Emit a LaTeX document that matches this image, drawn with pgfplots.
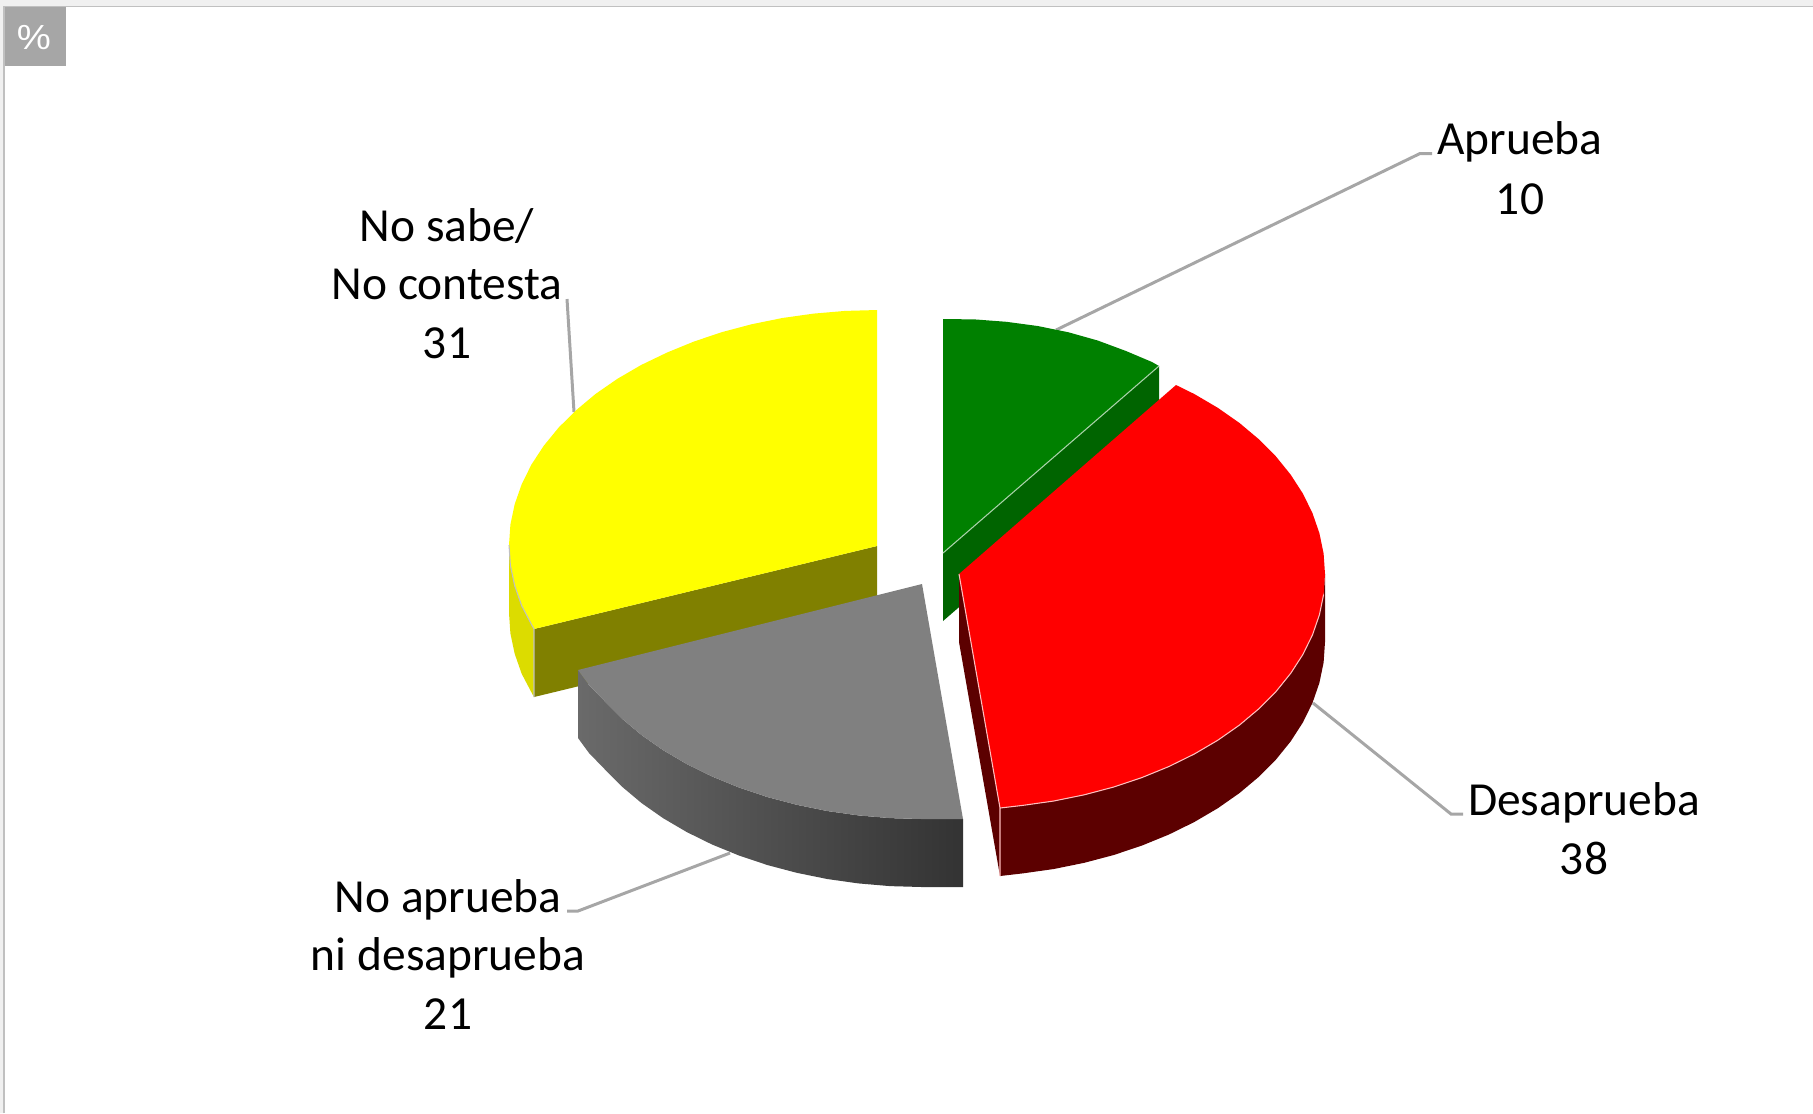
\documentclass[border=0pt]{standalone}
\usepackage{fontspec}
\setmainfont{Carlito}
\newfontfamily\pctfont{Liberation Sans}
\usepackage{pgfplots}
\pgfplotsset{compat=1.18}
\definecolor{lead}{HTML}{A6A6A6}
\definecolor{strip}{HTML}{F0F0F0}
\definecolor{bord}{HTML}{C0C0C0}
\definecolor{ytop}{rgb}{1,1,0}
\definecolor{rtop}{rgb}{1,0,0}
\definecolor{ysideL}{HTML}{DCDC00}
\definecolor{ycut}{HTML}{808000}
\definecolor{gside}{HTML}{006400}
\definecolor{gtop}{HTML}{008000}
\definecolor{gedge}{HTML}{AAD2AA}
\definecolor{greyL}{HTML}{6A6A6A}
\definecolor{greyR}{HTML}{333333}
\definecolor{greytop}{HTML}{808080}
\definecolor{rside}{HTML}{5C0000}
\definecolor{redge}{HTML}{FFBEBE}
\newcommand{\lab}[3]{\node[anchor=base,inner sep=0pt,font=\fontsize{13.5}{16}\selectfont] at (axis cs:#1,#2) {#3};}
\begin{document}
\begin{tikzpicture}
\begin{axis}[scale only axis,width=18.13cm,height=11.13cm,xmin=0,xmax=1813,ymin=0,ymax=1113,y dir=reverse,axis lines=none,no markers,clip=true]
% frame
\addplot[fill=strip,draw=none] coordinates {(0,0)(1813,0)(1813,6)(4,6)(4,1113)(0,1113)} --cycle;
\addplot[bord,line width=0.5pt] coordinates {(4,1113)(4,6.5)(1813,6.5)};
\addplot[fill=lead,draw=none] coordinates {(5,7)(66,7)(66,66)(5,66)} --cycle;
% leader lines
\addplot[lead,line width=0.85pt] coordinates {(1056,330)(1420,153.5)(1432,153.5)};
\addplot[lead,line width=0.85pt] coordinates {(574,412)(567,299)};
\addplot[lead,line width=0.85pt] coordinates {(730,853)(578,911)(567,911)};
\addplot[lead,line width=0.85pt] coordinates {(1313,703)(1451,814)(1463,814)};
% No sabe / No contesta: 31
\addplot[fill=ysideL,draw=none] coordinates {(509,545)(510.4,565.5)(514.7,585.8)(521.7,605.8)(532,625.4)(534,629)(534,697)(532,693.4)(521.7,673.8)(514.7,653.8)(510.4,633.5)(509,613)} --cycle;
\addplot[fill=ycut,draw=none] coordinates {(877,546)(534,629)(534,697)(877,614)} --cycle;
\addplot[fill=ytop,draw=none] coordinates {(877,546)(877,310)(845.1,310.9)(813.5,313.6)(782.3,318)(751.8,324.2)(722.3,332)(694,341.5)(667.1,352.5)(641.1,365)(617.4,378.8)(595.6,393.9)(576.1,410.2)(558.7,427.5)(543.8,445.7)(531.4,464.6)(521.7,484.2)(514.7,504.2)(510.4,524.5)(509,545)(510.4,565.5)(514.7,585.8)(521.7,605.8)(532,625.4)(534,629)} --cycle;
\addplot[bord,line width=0.3pt] coordinates {(534,697)(534,629)(532,625.4)(521.7,605.8)(514.7,585.8)(510.4,565.5)(509,545)};
% Aprueba: 10
\addplot[fill=gside,draw=none] coordinates {(943,553)(1159,366)(1159,434)(943,621)} --cycle;
\addplot[fill=gtop,draw=none] coordinates {(943,553)(943,319)(974.9,319.4)(1006.5,321.8)(1037.7,326)(1068.2,332.2)(1097.7,340.5)(1126,351)(1152,362)(1159,366)} --cycle;
\addplot[gedge,line width=0.3pt] coordinates {(943,553)(1159,366)};
% No aprueba ni desaprueba: 21
\addplot[draw=none,left color=greyL,right color=greyR] coordinates {(578,670)(589,685)(605,701.5)(622.2,718.8)(641.6,735.1)(663.2,750.2)(686.7,764)(712.1,776.5)(739,787.5)(767.3,797)(796.8,804.8)(827.3,811)(858.5,815.4)(890.1,818.1)(922,819)(963,819)(963,887)(922,887)(890.1,886.1)(858.5,883.4)(827.3,879)(796.8,872.8)(767.3,865)(739,855.5)(712.1,844.5)(686.7,832)(663.2,818.2)(641.6,803.1)(622.2,786.8)(605,769.5)(589,753)(578,738)} --cycle;
\addplot[fill=greytop,draw=none] coordinates {(922,584)(578,670)(589,685)(605,701.5)(622.2,718.8)(641.6,735.1)(663.2,750.2)(686.7,764)(712.1,776.5)(739,787.5)(767.3,797)(796.8,804.8)(827.3,811)(858.5,815.4)(890.1,818.1)(922,819)(963,819)} --cycle;
% Desaprueba: 38
\addplot[fill=rside,draw=none] coordinates {(959,574)(1000,808)(1000,876)(959,642)} --cycle;
\addplot[fill=rside,draw=none] coordinates {(1325,574)(1323.6,594.5)(1319.4,614.8)(1312.5,634.8)(1302.9,654.4)(1290.7,673.3)(1276,691.5)(1258.8,708.8)(1239.4,725.1)(1217.8,740.2)(1194.3,754)(1168.9,766.5)(1142,777.5)(1113.7,787)(1084.2,794.8)(1053.7,801)(1022.5,805.4)(1000,808)(1000,876)(1022.5,873.4)(1053.7,869)(1084.2,862.8)(1113.7,855)(1142,845.5)(1168.9,834.5)(1194.3,822)(1217.8,808.2)(1239.4,793.1)(1258.8,776.8)(1276,759.5)(1290.7,741.3)(1302.9,722.4)(1312.5,702.8)(1319.4,682.8)(1323.6,662.5)(1325,642)} --cycle;
\addplot[fill=rtop,draw=none] coordinates {(959,574)(1176,385)(1194.3,394)(1217.8,407.8)(1239.4,422.9)(1258.8,439.2)(1276,456.5)(1290.7,474.7)(1302.9,493.6)(1312.5,513.2)(1319.4,533.2)(1323.6,553.5)(1325,574)(1323.6,594.5)(1319.4,614.8)(1312.5,634.8)(1302.9,654.4)(1290.7,673.3)(1276,691.5)(1258.8,708.8)(1239.4,725.1)(1217.8,740.2)(1194.3,754)(1168.9,766.5)(1142,777.5)(1113.7,787)(1084.2,794.8)(1053.7,801)(1022.5,805.4)(1000,808)} --cycle;
\addplot[redge,line width=0.3pt] coordinates {(959,574)(1000,808)(1000,876)};
\addplot[redge,line width=0.3pt] coordinates {(1000,808)(1022.5,805.4)(1053.7,801)(1084.2,794.8)(1113.7,787)(1142,777.5)(1168.9,766.5)(1194.3,754)(1217.8,740.2)(1239.4,725.1)(1258.8,708.8)(1276,691.5)(1290.7,673.3)(1302.9,654.4)(1312.5,634.8)(1319.4,614.8)(1323.6,594.5)};
% labels
\node[anchor=center,inner sep=0pt,text=white,font=\pctfont\fontsize{9.9}{12}\selectfont] at (axis cs:34,37.5) {\scalebox{1.1}[1]{\%}};
\lab{1520}{154.5}{Aprueba}
\lab{1520}{214}{10}
\lab{447}{241}{No sabe/}
\lab{447}{299.5}{No contesta}
\lab{447}{358}{31}
\lab{448}{912.5}{No aprueba}
\lab{448}{970}{ni desaprueba}
\lab{448}{1029}{21}
\lab{1584}{815.5}{Desaprueba}
\lab{1584}{874}{38}
\end{axis}
\end{tikzpicture}
\end{document}
